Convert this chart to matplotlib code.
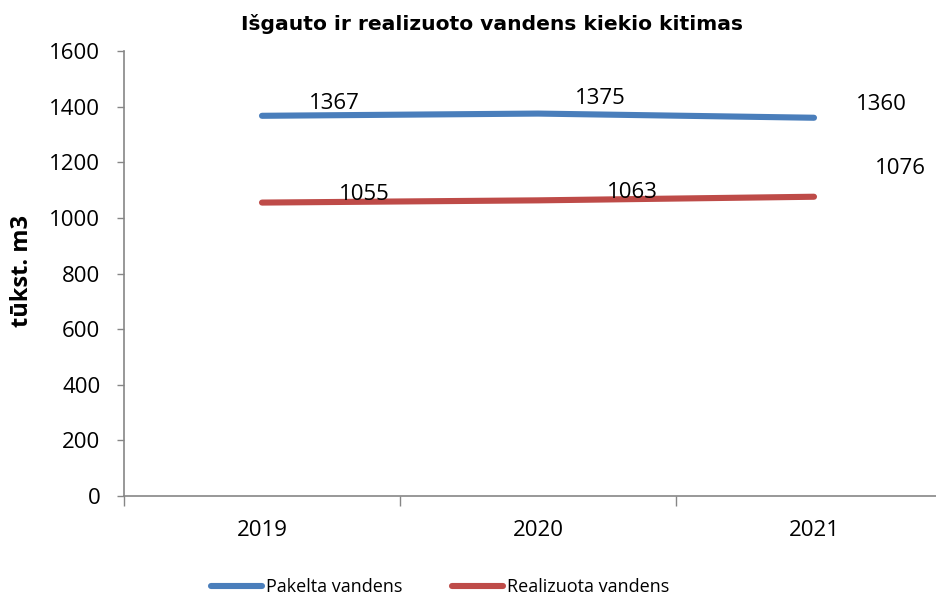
import matplotlib
matplotlib.use("Agg")
import matplotlib.pyplot as plt
import numpy as np

years = ["2019", "2020", "2021"]
pakelta = [1367, 1375, 1360]
realizuota = [1055, 1063, 1076]
yticks = [0, 200, 400, 600, 800, 1000, 1200, 1400, 1600]

plt.rcParams['font.family'] = ['Open Sans', 'DejaVu Sans']

W, H = 936, 596
fig = plt.figure(figsize=(W/100, H/100), dpi=100)
left, right, bottom, top = 124, 952, 496, 51
ax = fig.add_axes([left/W, 1-bottom/H, (right-left)/W, (bottom-top)/H])

x = np.arange(len(years))
blue = '#4A7EBB'
red = '#BE4B48'
l1, = ax.plot(x, pakelta, color=blue, lw=4.4, solid_capstyle='round', label='Pakelta vandens')
l2, = ax.plot(x, realizuota, color=red, lw=4.4, solid_capstyle='round', label='Realizuota vandens')

ax.set_xlim(-0.5, 2.5)
ax.set_ylim(0, 1600)
ax.set_yticks(yticks)
ax.set_yticklabels([str(v) for v in yticks])
ax.set_xticks(x)
ax.set_xticklabels(years)
ax.set_xticks([-0.5, 0.5, 1.5, 2.5], minor=True)
ax.tick_params(axis='x', which='major', length=0, pad=17, labelsize=16)
ax.tick_params(axis='x', which='minor', length=7, color='#868686', width=1, direction='out')
ax.tick_params(axis='y', length=5, color='#868686', width=1, direction='out', labelsize=16, pad=12)

for s in ['top', 'right']:
    ax.spines[s].set_visible(False)
for s in ['left', 'bottom']:
    ax.spines[s].set_color('#868686')
    ax.spines[s].set_linewidth(1.2)

# data label offsets (pixels right, pixels up) from each point
offs1 = [(72, 15), (62, 18), (67, 16)]
offs2 = [(102, 11), (94, 10), (86, 31)]
for i in range(len(years)):
    ax.annotate(str(pakelta[i]), (x[i], pakelta[i]), xytext=(offs1[i][0]*0.72, offs1[i][1]*0.72),
                textcoords='offset points', ha='center', va='center_baseline', fontsize=16)
    ax.annotate(str(realizuota[i]), (x[i], realizuota[i]), xytext=(offs2[i][0]*0.72, offs2[i][1]*0.72),
                textcoords='offset points', ha='center', va='center_baseline', fontsize=16)

fig.text(492/W, 1-24/H, 'Išgauto ir realizuoto vandens kiekio kitimas', ha='center', va='center',
         fontsize=14.6, fontweight='bold', family='DejaVu Sans')
fig.text(22/W, 1-271/H, 'tūkst. m3', rotation=90, ha='center', va='center', fontsize=17, fontweight='bold')

leg = fig.legend(handles=[l1, l2], loc='center left', bbox_to_anchor=(211/W, 1-587/H), ncol=2, frameon=False,
                 fontsize=13, handlelength=2.8, handletextpad=0.25, columnspacing=2.75, borderpad=0,
                 borderaxespad=0)

fig.savefig('out.png', dpi=100)
